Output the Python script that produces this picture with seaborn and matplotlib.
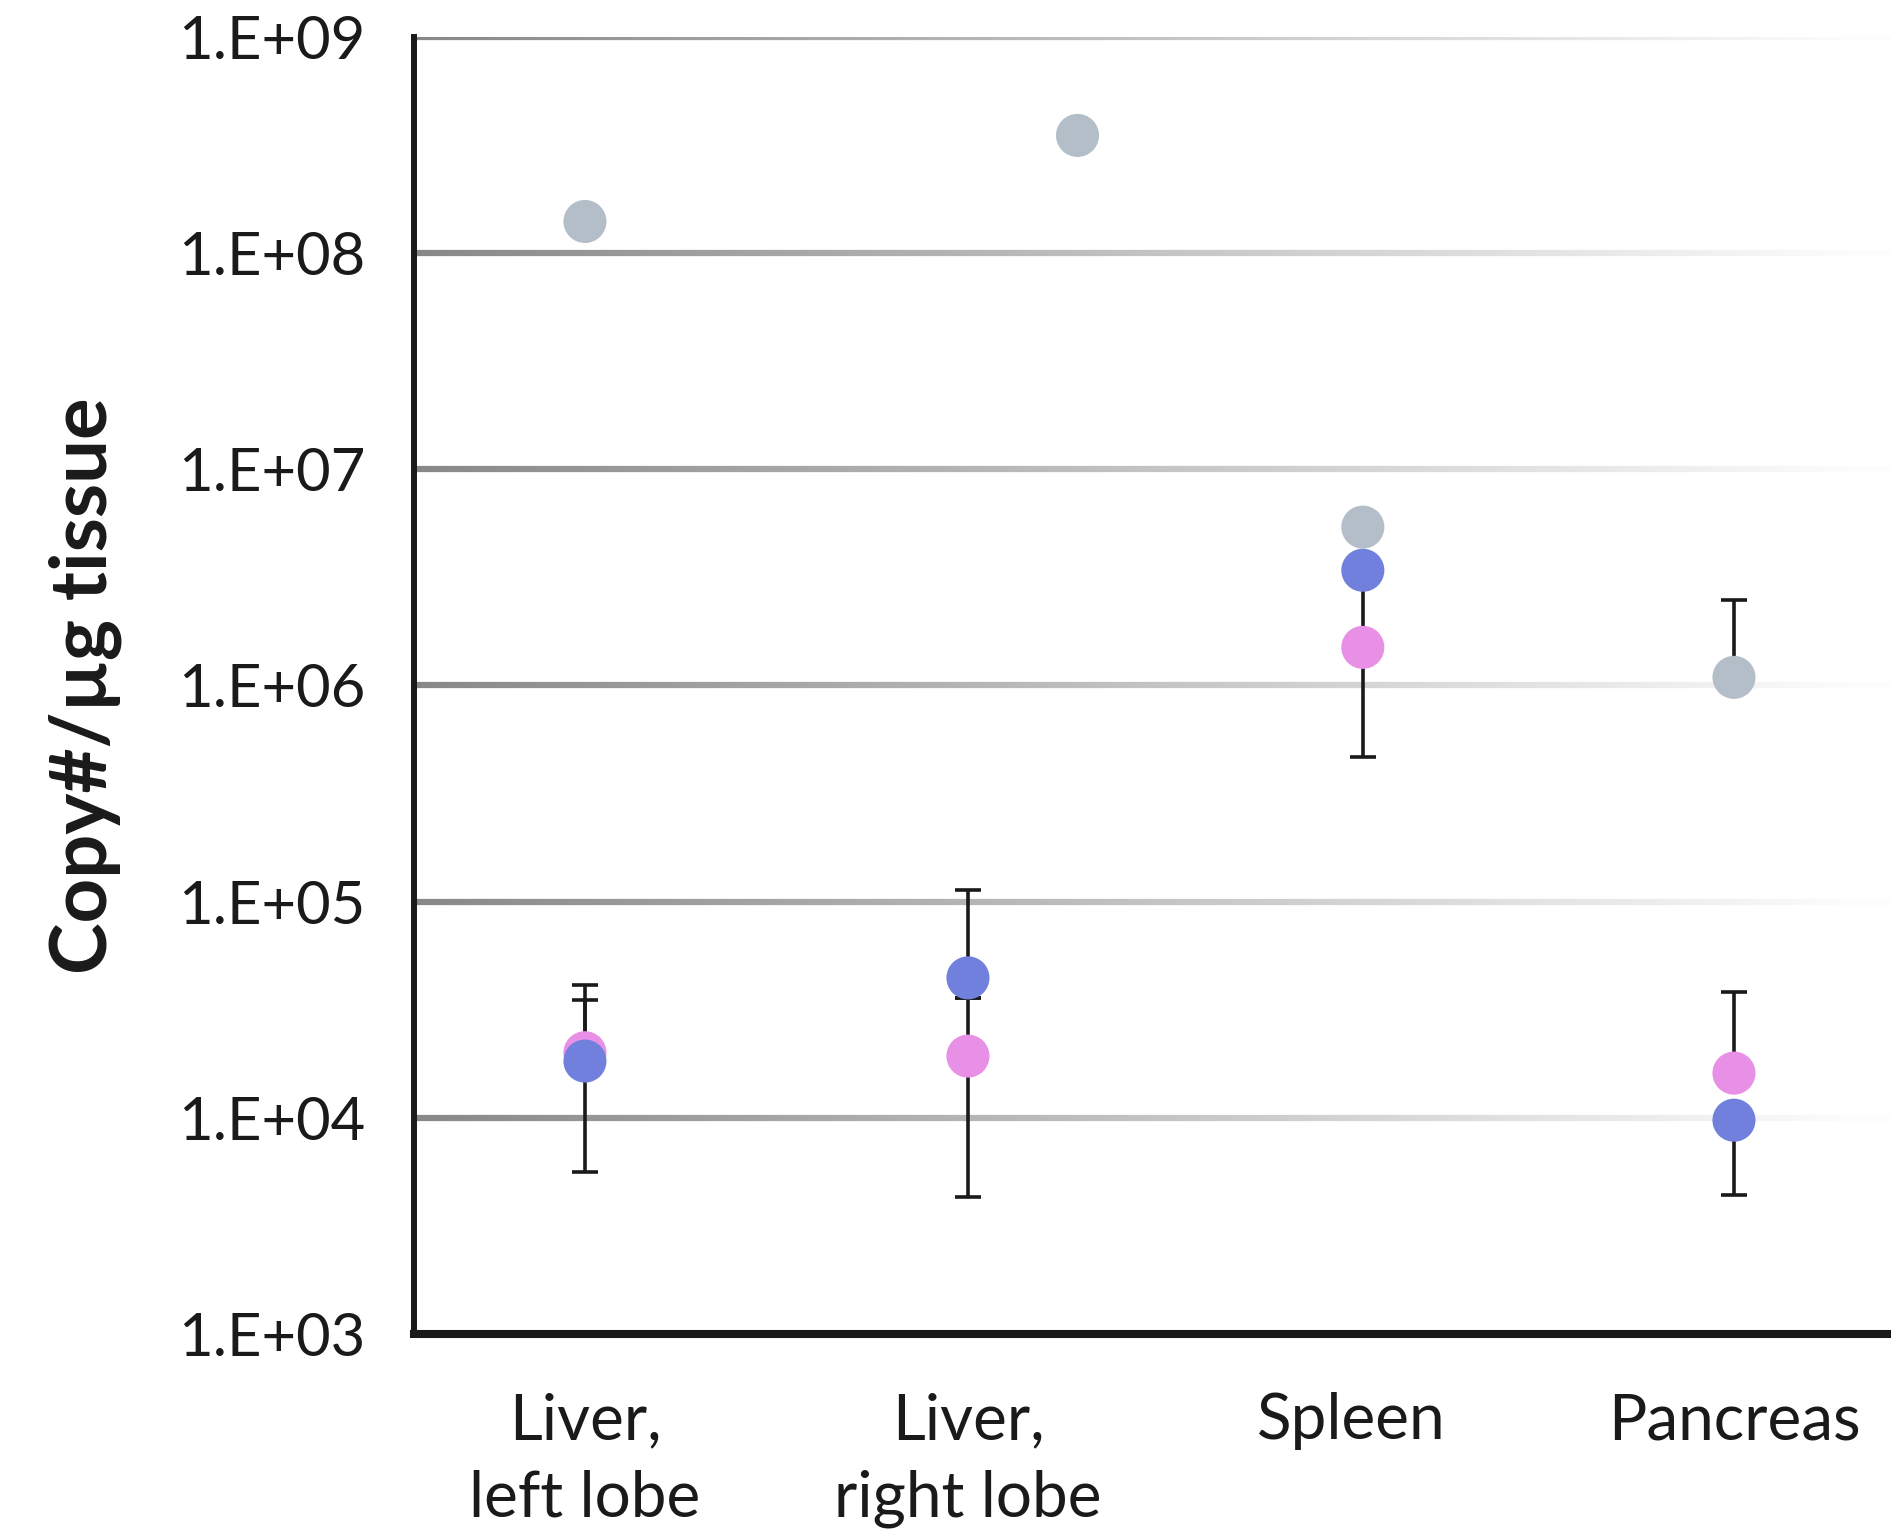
import matplotlib.pyplot as plt
import numpy as np
import pandas as pd
import seaborn as sns
from matplotlib.collections import LineCollection
from matplotlib.ticker import NullLocator

nan = np.nan

tissues = ['Liver,\nleft lobe', 'Liver,\nright lobe', 'Spleen', 'Pancreas']
series = ['Group A', 'Group B', 'Group C']

# copies per ug tissue
group_a = [1.4e8, 3.5e8, 5.4e6, 1.09e6]
group_a_low = [nan, nan, nan, nan]
group_a_high = [nan, nan, nan, 2.48e6]

group_b = [2.0e4, 1.93e4, 1.5e6, 1.61e4]
group_b_low = [5.6e3, 4.3e3, nan, nan]
group_b_high = [3.5e4, 3.6e4, nan, 3.8e4]

group_c = [1.83e4, 4.44e4, 3.41e6, 9.75e3]
group_c_low = [nan, 3.57e4, 4.67e5, 4.4e3]
group_c_high = [4.1e4, 1.135e5, nan, nan]

decades = [1e3, 1e4, 1e5, 1e6, 1e7, 1e8, 1e9]
decade_labels = ['1.E+03', '1.E+04', '1.E+05', '1.E+06', '1.E+07', '1.E+08', '1.E+09']

# horizontal nudges of the points away from the tick centre (category units)
shifts = {
    'Group A': [0, 0.286, 0.031, 0],
    'Group B': [0, 0, 0.031, 0],
    'Group C': [0, 0, 0.031, 0],
}
palette = {'Group A': '#b4bec8', 'Group B': '#e890e6', 'Group C': '#7080dc'}
ink = '#1a1a1a'

values = {'Group A': group_a, 'Group B': group_b, 'Group C': group_c}
lows = {'Group A': group_a_low, 'Group B': group_b_low, 'Group C': group_c_low}
highs = {'Group A': group_a_high, 'Group B': group_b_high, 'Group C': group_c_high}

rows = []
for name in series:
    for i, tissue in enumerate(tissues):
        rows.append({'group': name, 'tissue': tissue, 'pos': i + shifts[name][i],
                     'copies': values[name][i], 'low': lows[name][i], 'high': highs[name][i]})
df = pd.DataFrame(rows)

sns.set_theme(style='white')
plt.rcParams['font.family'] = ['Lato', 'DejaVu Sans']
plt.rcParams['text.color'] = ink

fig = plt.figure(figsize=(18.91, 15.36), dpi=100)
ax = fig.add_axes([0.219, 0.1315, 0.781, 0.8445])

# fading grid lines
n_seg = 120
fx = np.linspace(0, 1, n_seg + 1)
for d in decades[1:]:
    segs = [[(fx[k], d), (fx[k + 1], d)] for k in range(n_seg)]
    v = np.clip(135 + 120 * (fx[:-1] + fx[1:]) / 2, 0, 252) / 255
    cols = np.column_stack([v, v, v])
    lc = LineCollection(segs, colors=cols, linewidths=4.5, transform=ax.get_yaxis_transform(),
                        zorder=0.5, capstyle='butt')
    ax.add_collection(lc)

# upper and lower whiskers drawn separately, since only some of them are shown
for name in series:
    sub = df[df['group'] == name]
    y = sub['copies'].to_numpy()
    zero = np.zeros_like(y)
    for err in ([zero, sub['high'].to_numpy() - y], [y - sub['low'].to_numpy(), zero]):
        ax.errorbar(sub['pos'], y, yerr=np.vstack(err), fmt='none', ecolor=ink, elinewidth=2.6,
                    capsize=9.5, capthick=2.6, zorder=2)

sns.scatterplot(data=df, x='pos', y='copies', hue='group', palette=palette, s=961,
                linewidth=0, legend=False, ax=ax, zorder=3)

ax.set_yscale('log')
ax.set_ylim(1e3, 1e9)
ax.set_xlim(-0.446, 3.41)
ax.set_yticks(decades)
ax.set_yticklabels(decade_labels)
ax.yaxis.set_minor_locator(NullLocator())
ax.set_xticks(range(len(tissues)))
ax.set_xticklabels(tissues, linespacing=1.4)
ax.set_xlabel('')
ax.set_ylabel('Copy#/µg tissue', fontsize=56, fontweight='bold', color=ink)
ax.yaxis.set_label_coords(-0.198, 0.5)

ax.tick_params(axis='y', length=0, pad=35, labelsize=43, labelcolor=ink)
ax.tick_params(axis='x', length=12, width=2.5, color=ink, direction='out', pad=30,
               labelsize=46, labelcolor=ink)

for side in ['top', 'right']:
    ax.spines[side].set_visible(False)
ax.spines['left'].set_linewidth(4.3)
ax.spines['bottom'].set_linewidth(5.8)
ax.spines['left'].set_color(ink)
ax.spines['bottom'].set_color(ink)
ax.set_facecolor('white')

fig.savefig('out.png', dpi=100, facecolor='white')
